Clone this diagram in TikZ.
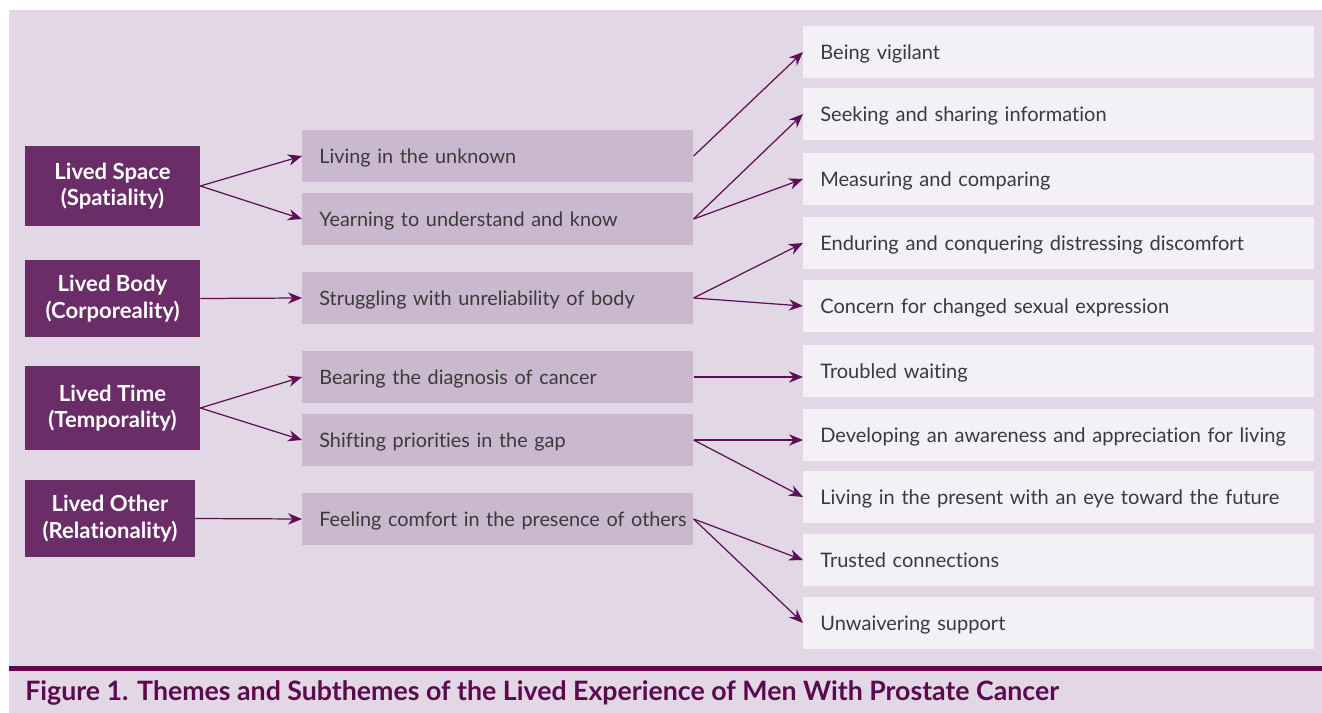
\documentclass[tikz,border=0pt]{standalone}
\usepackage{fontspec}
\setmainfont[Ligatures=NoCommon]{Lato}
\usetikzlibrary{arrows.meta}
\definecolor{bgpanel}{HTML}{E2D7E5}
\definecolor{themefill}{HTML}{6B2D67}
\definecolor{subfill}{HTML}{CAB8CE}
\definecolor{leaffill}{HTML}{F4F1F6}
\definecolor{arrowcol}{HTML}{5C0F55}
\definecolor{textgray}{HTML}{3A3A3A}
\definecolor{captioncol}{HTML}{5C0A50}
\begin{document}
\begin{tikzpicture}[x=0.02cm, y=-0.02cm,
    theme/.style={fill=themefill, text=white, align=center, inner sep=0pt,
        minimum width=3.5cm, font=\fontsize{12.6}{15}\selectfont\bfseries},
    subtheme/.style={fill=subfill, text=textgray, anchor=west, inner xsep=0.34cm, inner ysep=0pt,
        minimum height=1.04cm, text width=7.14cm, text height=10pt, text depth=2pt,
        align=left, font=\fontsize{11.3}{13}\selectfont},
    leaf/.style={fill=leaffill, text=textgray, anchor=west, inner xsep=0.34cm, inner ysep=0pt,
        minimum height=1.04cm, text width=9.54cm, text height=10pt, text depth=2pt,
        align=left, font=\fontsize{11.4}{13}\selectfont},
    link/.style={-{Stealth[length=8pt, width=6.5pt]}, arrowcol, line width=0.7pt}]

    % Background panel and caption rule
    \fill[white] (0, 0) rectangle (1322, 713);
    \fill[bgpanel] (9, 10) rectangle (1322, 713);
    \fill[captioncol] (9, 666) rectangle (1322, 671);

    % Themes
    \node[theme, minimum height=1.6cm] (space) at (112.5, 186) {Lived Space\\(Spatiality)};
    \node[theme, minimum height=1.54cm] (body) at (112.5, 298.5) {Lived Body\\(Corporeality)};
    \node[theme, minimum height=1.68cm] (time) at (112.5, 408) {Lived Time\\(Temporality)};
    \node[theme, minimum height=1.54cm, minimum width=3.4cm] (other) at (110, 518.5) {Lived Other\\(Relationality)};

    % Subthemes
    \node[subtheme] (unknown) at (302, 156) {Living in the unknown};
    \node[subtheme] (yearning) at (302, 219) {Yearning to understand and know};
    \node[subtheme] (struggling) at (302, 298) {Struggling with unreliability of body};
    \node[subtheme] (bearing) at (302, 377) {Bearing the diagnosis of cancer};
    \node[subtheme] (shifting) at (302, 440) {Shifting priorities in the gap};
    \node[subtheme] (comfort) at (302, 519) {\mbox{Feeling comfort in the presence of others}};

    % Second level subthemes
    \node[leaf] (vigilant) at (803, 52) {Being vigilant};
    \node[leaf] (seeking) at (803, 114) {Seeking and sharing information};
    \node[leaf] (measuring) at (803, 179) {Measuring and comparing};
    \node[leaf] (enduring) at (803, 243) {Enduring and conquering distressing discomfort};
    \node[leaf] (concern) at (803, 306) {Concern for changed sexual expression};
    \node[leaf] (waiting) at (803, 371) {Troubled waiting};
    \node[leaf] (developing) at (803, 435) {Developing an awareness and appreciation for living};
    \node[leaf] (present) at (803, 497) {Living in the present with an eye toward the future};
    \node[leaf] (trusted) at (803, 560) {Trusted connections};
    \node[leaf] (support) at (803, 623) {Unwaivering support};

    % Theme to subtheme arrows
    \draw[link] (space.east) -- (unknown.west);
    \draw[link] (space.east) -- (yearning.west);
    \draw[link] (body.east) -- (struggling.west);
    \draw[link] (time.east) -- (bearing.west);
    \draw[link] (time.east) -- (shifting.west);
    \draw[link] (other.east) -- (comfort.west);

    % Subtheme to second level arrows
    \draw[link] (unknown.east) -- (vigilant.west);
    \draw[link] (yearning.east) -- (seeking.west);
    \draw[link] (yearning.east) -- (measuring.west);
    \draw[link] (struggling.east) -- (enduring.west);
    \draw[link] (struggling.east) -- (concern.west);
    \draw[link] (bearing.east) -- (bearing.east -| waiting.west);
    \draw[link] (shifting.east) -- (shifting.east -| developing.west);
    \draw[link] (shifting.east) -- (present.west);
    \draw[link] (comfort.east) -- (trusted.west);
    \draw[link] (comfort.east) -- (support.west);

    % Caption
    \node[anchor=base west, inner sep=0pt, text=captioncol, font=\fontsize{15.2}{18}\selectfont\bfseries] (caption) at (25, 700)
        {Figure 1. Themes and Subthemes of the Lived Experience of Men With Prostate Cancer};
\end{tikzpicture}
\end{document}
